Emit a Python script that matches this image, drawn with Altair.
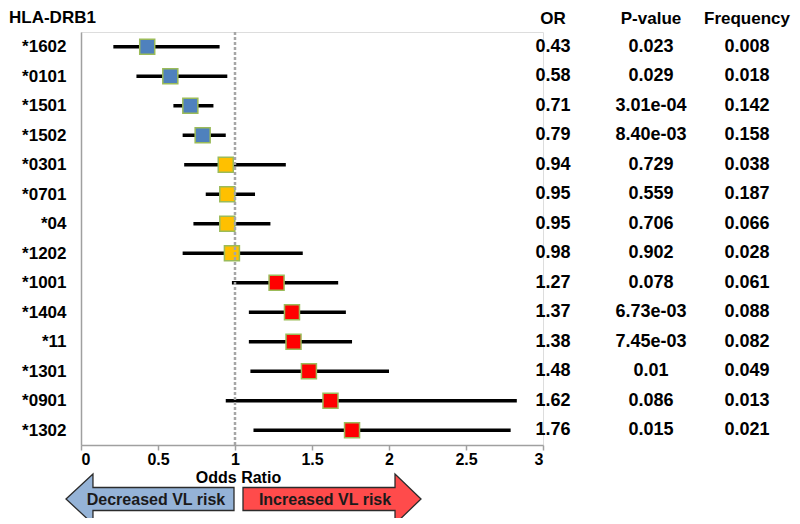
import altair as alt
import pandas as pd

# ---- data ----
alleles = ["*1602", "*0101", "*1501", "*1502", "*0301", "*0701", "*04", "*1202",
           "*1001", "*1404", "*11", "*1301", "*0901", "*1302"]
odds = [0.43, 0.58, 0.71, 0.79, 0.94, 0.95, 0.95, 0.98, 1.27, 1.37, 1.38, 1.48, 1.62, 1.76]
ci_low = [0.21, 0.36, 0.60, 0.66, 0.67, 0.81, 0.73, 0.66, 0.98, 1.09, 1.09, 1.10, 0.94, 1.12]
ci_high = [0.90, 0.95, 0.86, 0.94, 1.33, 1.13, 1.23, 1.44, 1.67, 1.72, 1.76, 2.00, 2.83, 2.79]
or_text = ["0.43", "0.58", "0.71", "0.79", "0.94", "0.95", "0.95", "0.98",
           "1.27", "1.37", "1.38", "1.48", "1.62", "1.76"]
p_text = ["0.023", "0.029", "3.01e-04", "8.40e-03", "0.729", "0.559", "0.706", "0.902",
          "0.078", "6.73e-03", "7.45e-03", "0.01", "0.086", "0.015"]
freq_text = ["0.008", "0.018", "0.142", "0.158", "0.038", "0.187", "0.066", "0.028",
             "0.061", "0.088", "0.082", "0.049", "0.013", "0.021"]
risk_group = ["Decreased"] * 4 + ["Neutral"] * 4 + ["Increased"] * 6
group_names = ["Decreased", "Neutral", "Increased"]
group_colors = ["#4F81BD", "#FFC000", "#FF0000"]
x_ticks = [0, 0.5, 1, 1.5, 2, 2.5, 3]
column_headers = ["OR", "P-value", "Frequency"]
arrow_labels = ["Decreased VL risk", "Increased VL risk"]

df = pd.DataFrame({
    "allele": alleles, "or": odds, "lo": ci_low, "hi": ci_high,
    "or_t": or_text, "p_t": p_text, "f_t": freq_text, "group": risk_group,
})

FONT = "Liberation Sans"
W, H = 462, 413

yenc = alt.Y("allele:N", sort=alleles, scale=alt.Scale(type="point", padding=0.5),
             axis=alt.Axis(title=None, ticks=False, domainColor="#A0A0A0", domainWidth=1.5,
                           labelFontSize=17, labelFontWeight="bold", labelColor="black",
                           labelPadding=15, grid=False, labelFont=FONT))

xscale = alt.Scale(domain=[0, 3], nice=False, zero=False)
xaxis = alt.Axis(values=x_ticks, format="~g", grid=False, domainColor="#A0A0A0",
                 domainWidth=1.5, tickColor="#A0A0A0", tickWidth=1.5, tickSize=5,
                 labelFontSize=16, labelFontWeight="bold", labelColor="black",
                 labelPadding=1, labelFont=FONT,
                 title="Odds Ratio", titleFontSize=16, titleFontWeight="bold",
                 titleColor="black", titleX=157, titleY=37, titleAlign="center",
                 titleBaseline="alphabetic", titleFont=FONT)

base = alt.Chart(df)

ci = base.mark_rule(color="black", strokeWidth=3.5).encode(
    x=alt.X("lo:Q", scale=xscale, axis=xaxis), x2="hi:Q", y=yenc)

squares = base.mark_square(size=225, filled=True, opacity=1, stroke="#9BBB59",
                           strokeWidth=1.5).encode(
    x=alt.X("or:Q", scale=xscale),
    y=yenc,
    color=alt.Color("group:N", scale=alt.Scale(domain=group_names, range=group_colors),
                    legend=None))

ref = alt.Chart(pd.DataFrame({"v": [1]})).mark_rule(
    color="#A6A6A6", strokeDash=[3, 2], strokeWidth=2.5).encode(
    x=alt.X("v:Q", scale=xscale))

def col_text(field, xpos):
    return base.mark_text(fontSize=18, fontWeight="bold", align="center",
                          baseline="middle", font=FONT, color="black").encode(
        y=yenc, x=alt.value(xpos), text=f"{field}:N")

header_x = [472, 570, 666]
or_col = col_text("or_t", header_x[0])
p_col = col_text("p_t", header_x[1])
f_col = col_text("f_t", header_x[2])

headers = [
    alt.Chart(pd.DataFrame({"t": [h]})).mark_text(
        fontSize=17, fontWeight="bold", align="center", baseline="alphabetic",
        font=FONT, color="black").encode(x=alt.value(hx), y=alt.value(-8), text="t:N")
    for h, hx in zip(column_headers, header_x)
]

title_left = alt.Chart(pd.DataFrame({"t": ["HLA-DRB1"]})).mark_text(
    fontSize=17, fontWeight="bold", align="left", baseline="alphabetic",
    font=FONT, color="black").encode(x=alt.value(-72), y=alt.value(-9), text="t:N")

left_arrow = ("M -1 0 L -0.679 -0.298 L -0.679 -0.137 L 1 -0.137 L 1 0.137 "
              "L -0.679 0.137 L -0.679 0.298 Z")
right_arrow = ("M 1 0 L 0.708 -0.281 L 0.708 -0.129 L -1 -0.129 L -1 0.129 "
               "L 0.708 0.129 L 0.708 0.281 Z")

arrow_dec = alt.Chart(pd.DataFrame({"t": [arrow_labels[0]]})).mark_point(
    shape=left_arrow, size=168 ** 2, filled=True, fill="#95B3D7", stroke="#2B2B2B",
    strokeWidth=1.3, opacity=1).encode(x=alt.value(69), y=alt.value(467))
arrow_inc = alt.Chart(pd.DataFrame({"t": [arrow_labels[1]]})).mark_point(
    shape=right_arrow, size=178 ** 2, filled=True, fill="#FF4B4B", stroke="#2B2B2B",
    strokeWidth=1.3, opacity=1).encode(x=alt.value(251), y=alt.value(467))

text_dec = alt.Chart(pd.DataFrame({"t": [arrow_labels[0]]})).mark_text(
    fontSize=16, fontWeight="bold", align="center", baseline="middle",
    font=FONT, color="#1A1A1A").encode(x=alt.value(75), y=alt.value(468), text="t:N")
text_inc = alt.Chart(pd.DataFrame({"t": [arrow_labels[1]]})).mark_text(
    fontSize=16, fontWeight="bold", align="center", baseline="middle",
    font=FONT, color="#1A1A1A").encode(x=alt.value(244), y=alt.value(468), text="t:N")

chart = alt.layer(
    ci, squares, ref, or_col, p_col, f_col, *headers, title_left,
    arrow_dec, arrow_inc, text_dec, text_inc
).properties(
    width=W, height=H,
    autosize=alt.AutoSizeParams(type="none"),
    padding={"left": 73, "top": 24, "right": 249, "bottom": 73},
).configure_view(stroke=None).configure(font=FONT)

chart.save("out.html", embed_options={"renderer": "svg", "actions": False})
